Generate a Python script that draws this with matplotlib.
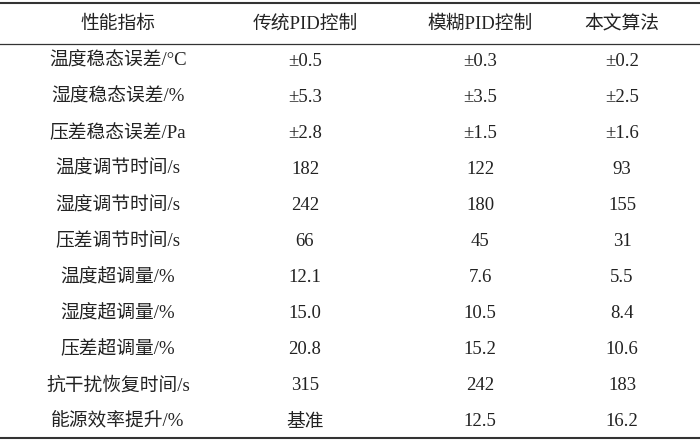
import matplotlib
matplotlib.use("Agg")
import matplotlib.pyplot as plt

headers = ["性能指标", "传统PID控制", "模糊PID控制", "本文算法"]
metrics = ["温度稳态误差/°C", "湿度稳态误差/%", "压差稳态误差/Pa", "温度调节时间/s",
           "湿度调节时间/s", "压差调节时间/s", "温度超调量/%", "湿度超调量/%",
           "压差超调量/%", "抗干扰恢复时间/s", "能源效率提升/%"]
traditional = ["±0.5", "±5.3", "±2.8", "182", "242", "66", "12.1", "15.0", "20.8", "315", "基准"]
fuzzy = ["±0.3", "±3.5", "±1.5", "122", "180", "45", "7.6", "10.5", "15.2", "242", "12.5"]
ours = ["±0.2", "±2.5", "±1.6", "93", "155", "31", "5.5", "8.4", "10.6", "183", "16.2"]

W, H = 700, 441
fig = plt.figure(figsize=(W/100, H/100), dpi=100)
ax = fig.add_axes([0, 0, 1, 1])
ax.set_xlim(0, W); ax.set_ylim(H, 0); ax.axis("off")

fam = ["Liberation Serif", "Noto Sans CJK SC"]
colx = [118, 305, 480, 622]
fs = 13.5
for x, h in zip(colx, headers):
    ax.text(x, 24, h, ha="center", va="center", fontsize=fs, family=fam, color="#222")
rows = list(zip(metrics, traditional, fuzzy, ours))
y0, dy = 61, 36.1
for i, r in enumerate(rows):
    y = y0 + i*dy
    for x, t in zip(colx, r):
        ax.text(x, y, t, ha="center", va="center", fontsize=fs, family=fam, color="#222")
ax.plot([0, W], [3, 3], color="#333", lw=1.5)
ax.plot([0, W], [44, 44], color="#333", lw=0.9)
ax.plot([0, W], [438, 438], color="#333", lw=1.5)
fig.savefig("out.png", dpi=100)
